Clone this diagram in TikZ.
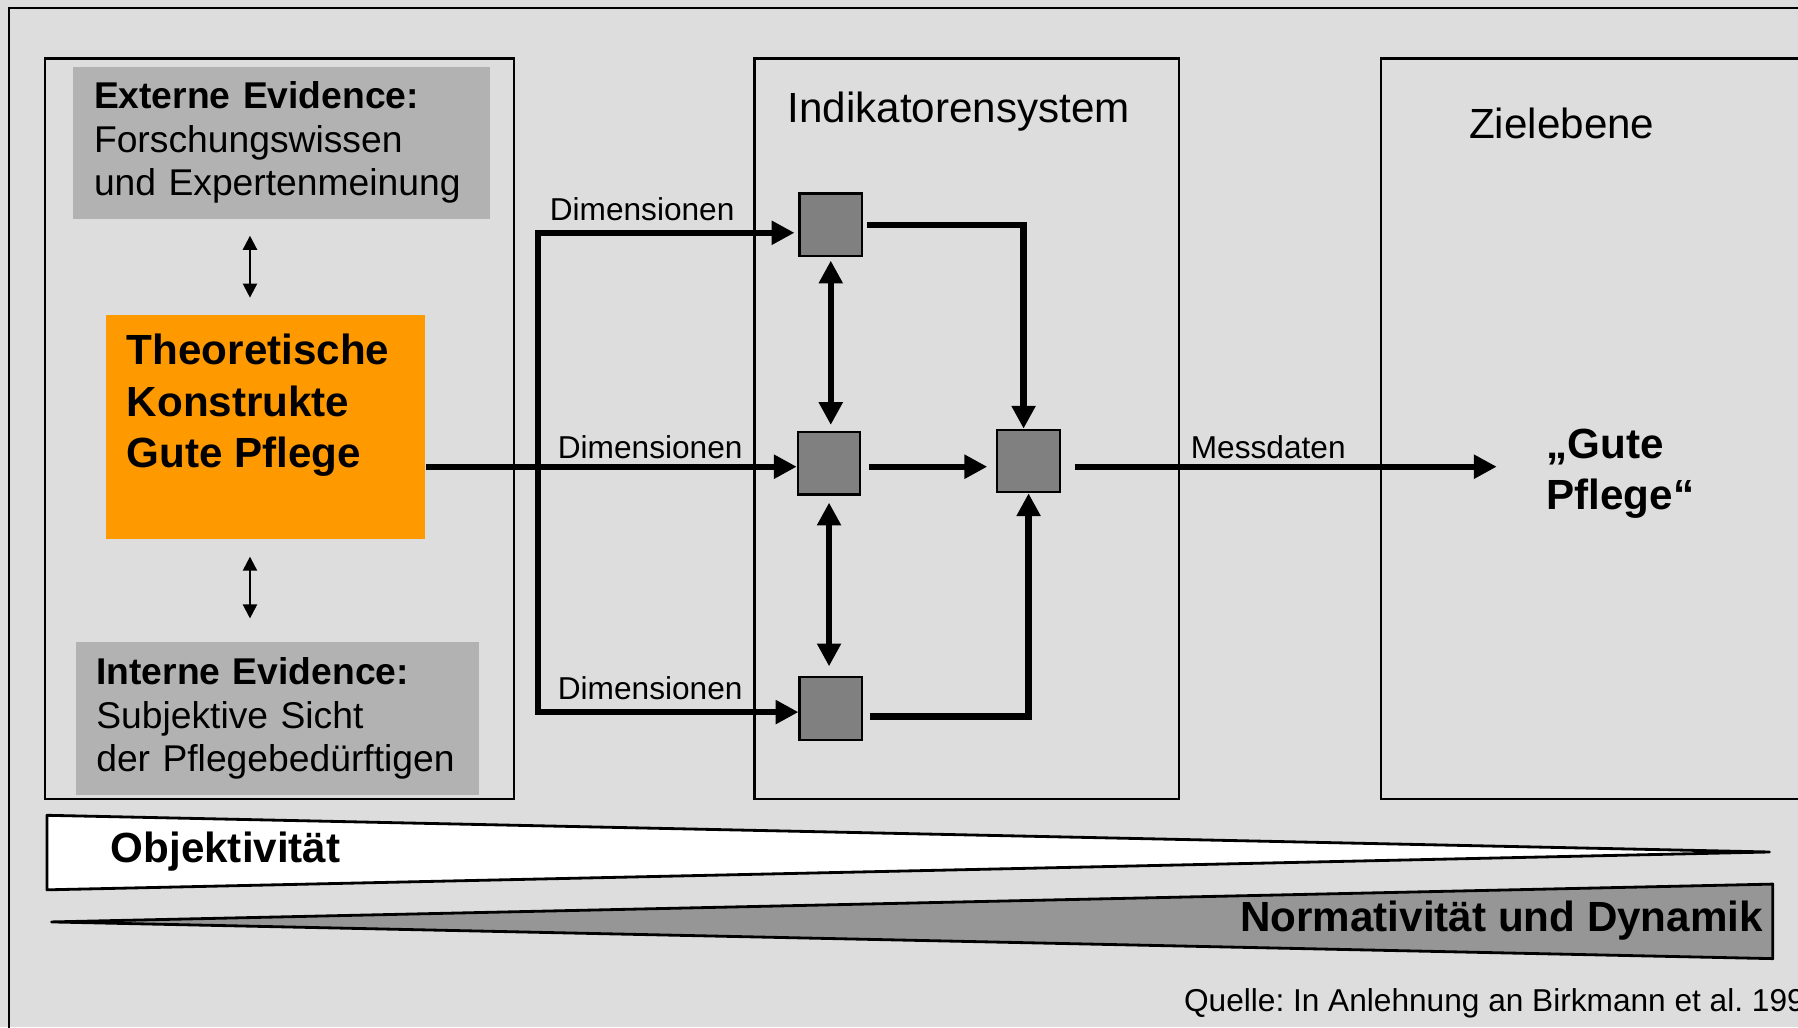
\documentclass[tikz,border=0pt]{standalone}
\usepackage{fontspec}
\setmainfont{Liberation Sans}
\usetikzlibrary{arrows.meta}
\frenchspacing

\definecolor{hintergrund}{HTML}{DDDDDD}
\definecolor{evidenzgrau}{HTML}{B2B2B2}
\definecolor{konstruktorange}{HTML}{FF9900}
\definecolor{indgrau}{HTML}{808080}
\definecolor{keilgrau}{HTML}{969696}

\newcommand{\grosstext}{\fontsize{12}{14.7}\selectfont}
\newcommand{\normtext}{\fontsize{10.6}{12.4}\selectfont}
\newcommand{\kleintext}{\fontsize{9}{11}\selectfont}

\tikzset{
  panel/.style={draw, line width=0.6pt},
  evidenz/.style={fill=evidenzgrau, inner xsep=2.06mm, minimum height=15.25mm,
    align=left, font=\normtext},
  indikator/.style={draw, line width=0.6pt, fill=indgrau, inner sep=0pt,
    minimum size=6.25mm},
  fett/.style={line width=1.8pt, -{Triangle[length=6.5pt,width=6.5pt]}},
  fettbeide/.style={line width=1.8pt,
    {Triangle[length=6.5pt,width=6.5pt]}-{Triangle[length=6.5pt,width=6.5pt]}},
  duennbeide/.style={line width=0.6pt,
    {Triangle[length=4pt,width=4pt]}-{Triangle[length=4pt,width=4pt]}},
  keil/.style={draw, line width=0.8pt, line join=round},
}

\begin{document}
\begin{tikzpicture}[x=0.11467mm, y=-0.11467mm]
   \clip (0,0) rectangle (1568,896);
   \fill[hintergrund] (0,0) rectangle (1568,896);
   \draw[panel] (8,7) rectangle (1600,930);

   % drei Ebenen
   \draw[panel] (39,51) rectangle (448,697);
   \draw[panel] (658,51) rectangle (1028,697);
   \draw[panel] (1204,51) rectangle (1600,697);
   \node[font=\grosstext] (indtitel) at (836,97) {Indikatorensystem};
   \node[font=\grosstext] (zieltitel) at (1362,108) {Zielebene};

   % linke Ebene
   \node[evidenz, text width=37.5mm] (extern) at (245.5,124.5)
     {\textbf{Externe Evidence:}\\Forschungswissen\\und Expertenmeinung};
   \node[fill=konstruktorange, minimum width=31.99mm, minimum height=22.36mm]
     (konstrukt) at (231.5,372.5) {};
   \node[anchor=west, inner sep=0pt, align=left, font=\grosstext\bfseries]
     (konstrukttext) at (110,353.5) {Theoretische\\Konstrukte\\Gute Pflege};
   \node[evidenz, text width=36.24mm] (intern) at (242,626.5)
     {\textbf{Interne Evidence:}\\Subjektive Sicht\\der Pflegebedürftigen};

   \coordinate (lx) at (218,0);
   \draw[duennbeide, shorten <=1.6mm, shorten >=1.7mm]
     (extern.south -| lx) -- (konstrukt.north -| lx);
   \draw[duennbeide, shorten <=1.7mm, shorten >=2.3mm]
     (konstrukt.south -| lx) -- (intern.north -| lx);

   % Indikatorensystem
   \foreach \n/\x/\y in {oben/724.5/196, mitte/723/404, unten/724.5/618, gesamt/897/402}
     \node[indikator] (\n) at (\x,\y) {};
   \foreach \n/\x/\y in {dimoben/560/182, dimmitte/567/390, dimunten/567/600}
     \node[font=\kleintext] (\n) at (\x,\y) {Dimensionen};

   \coordinate (achse) at (0,407);
   \coordinate (busoben) at (469,203);
   \coordinate (busunten) at (469,621);
   \draw[fett] (konstrukt.east |- achse) -- (mitte.west |- achse);
   \draw[fettbeide, shorten <=0.4mm]
     (oben.west |- busoben) -- (busoben) -- (busunten) -- (unten.west |- busunten);
   \draw[fett, shorten <=0.8mm, shorten >=0.9mm] (mitte.east |- achse) -- (gesamt.west |- achse);
   \draw[fett, shorten <=0.4mm] (oben.east) -| ([xshift=-0.5mm]gesamt.north);
   \draw[fett, shorten <=0.7mm] ([yshift=-0.8mm]unten.east) -| (gesamt.south);
   \draw[fettbeide, shorten <=0.35mm, shorten >=0.6mm] (oben.south) -- (oben.south |- mitte.north);
   \draw[fettbeide, shorten <=0.7mm, shorten >=1mm] (mitte.south) -- (mitte.south |- unten.north);

   % Zielebene
   \node[anchor=west, inner sep=0pt, align=left, font=\grosstext\bfseries]
     (gute) at (1348,413) {„Gute\\Pflege“};
   \draw[fett, shorten <=1.4mm, shorten >=4.9mm] (gesamt.east |- achse) -- (gute.west |- achse);
   \node[font=\kleintext] (messdaten) at (1106,390) {Messdaten};

   % Keile
   \draw[keil, fill=white] (41,711) -- (1543,743) -- (41,776) -- cycle;
   \draw[keil, fill=keilgrau] (45,804) -- (1546,771) -- (1546,836) -- cycle;
   \node[anchor=west, inner sep=0pt, font=\grosstext\bfseries] (objektiv) at (96,743) {Objektivität};
   \node[anchor=east, inner sep=0pt, font=\grosstext\bfseries] (normativ) at (1538,803)
     {Normativität und Dynamik};

   \node[anchor=west, inner sep=0pt, font=\kleintext] (quelle) at (1032,875)
     {Quelle: In Anlehnung an Birkmann et al. 199};
\end{tikzpicture}
\end{document}
